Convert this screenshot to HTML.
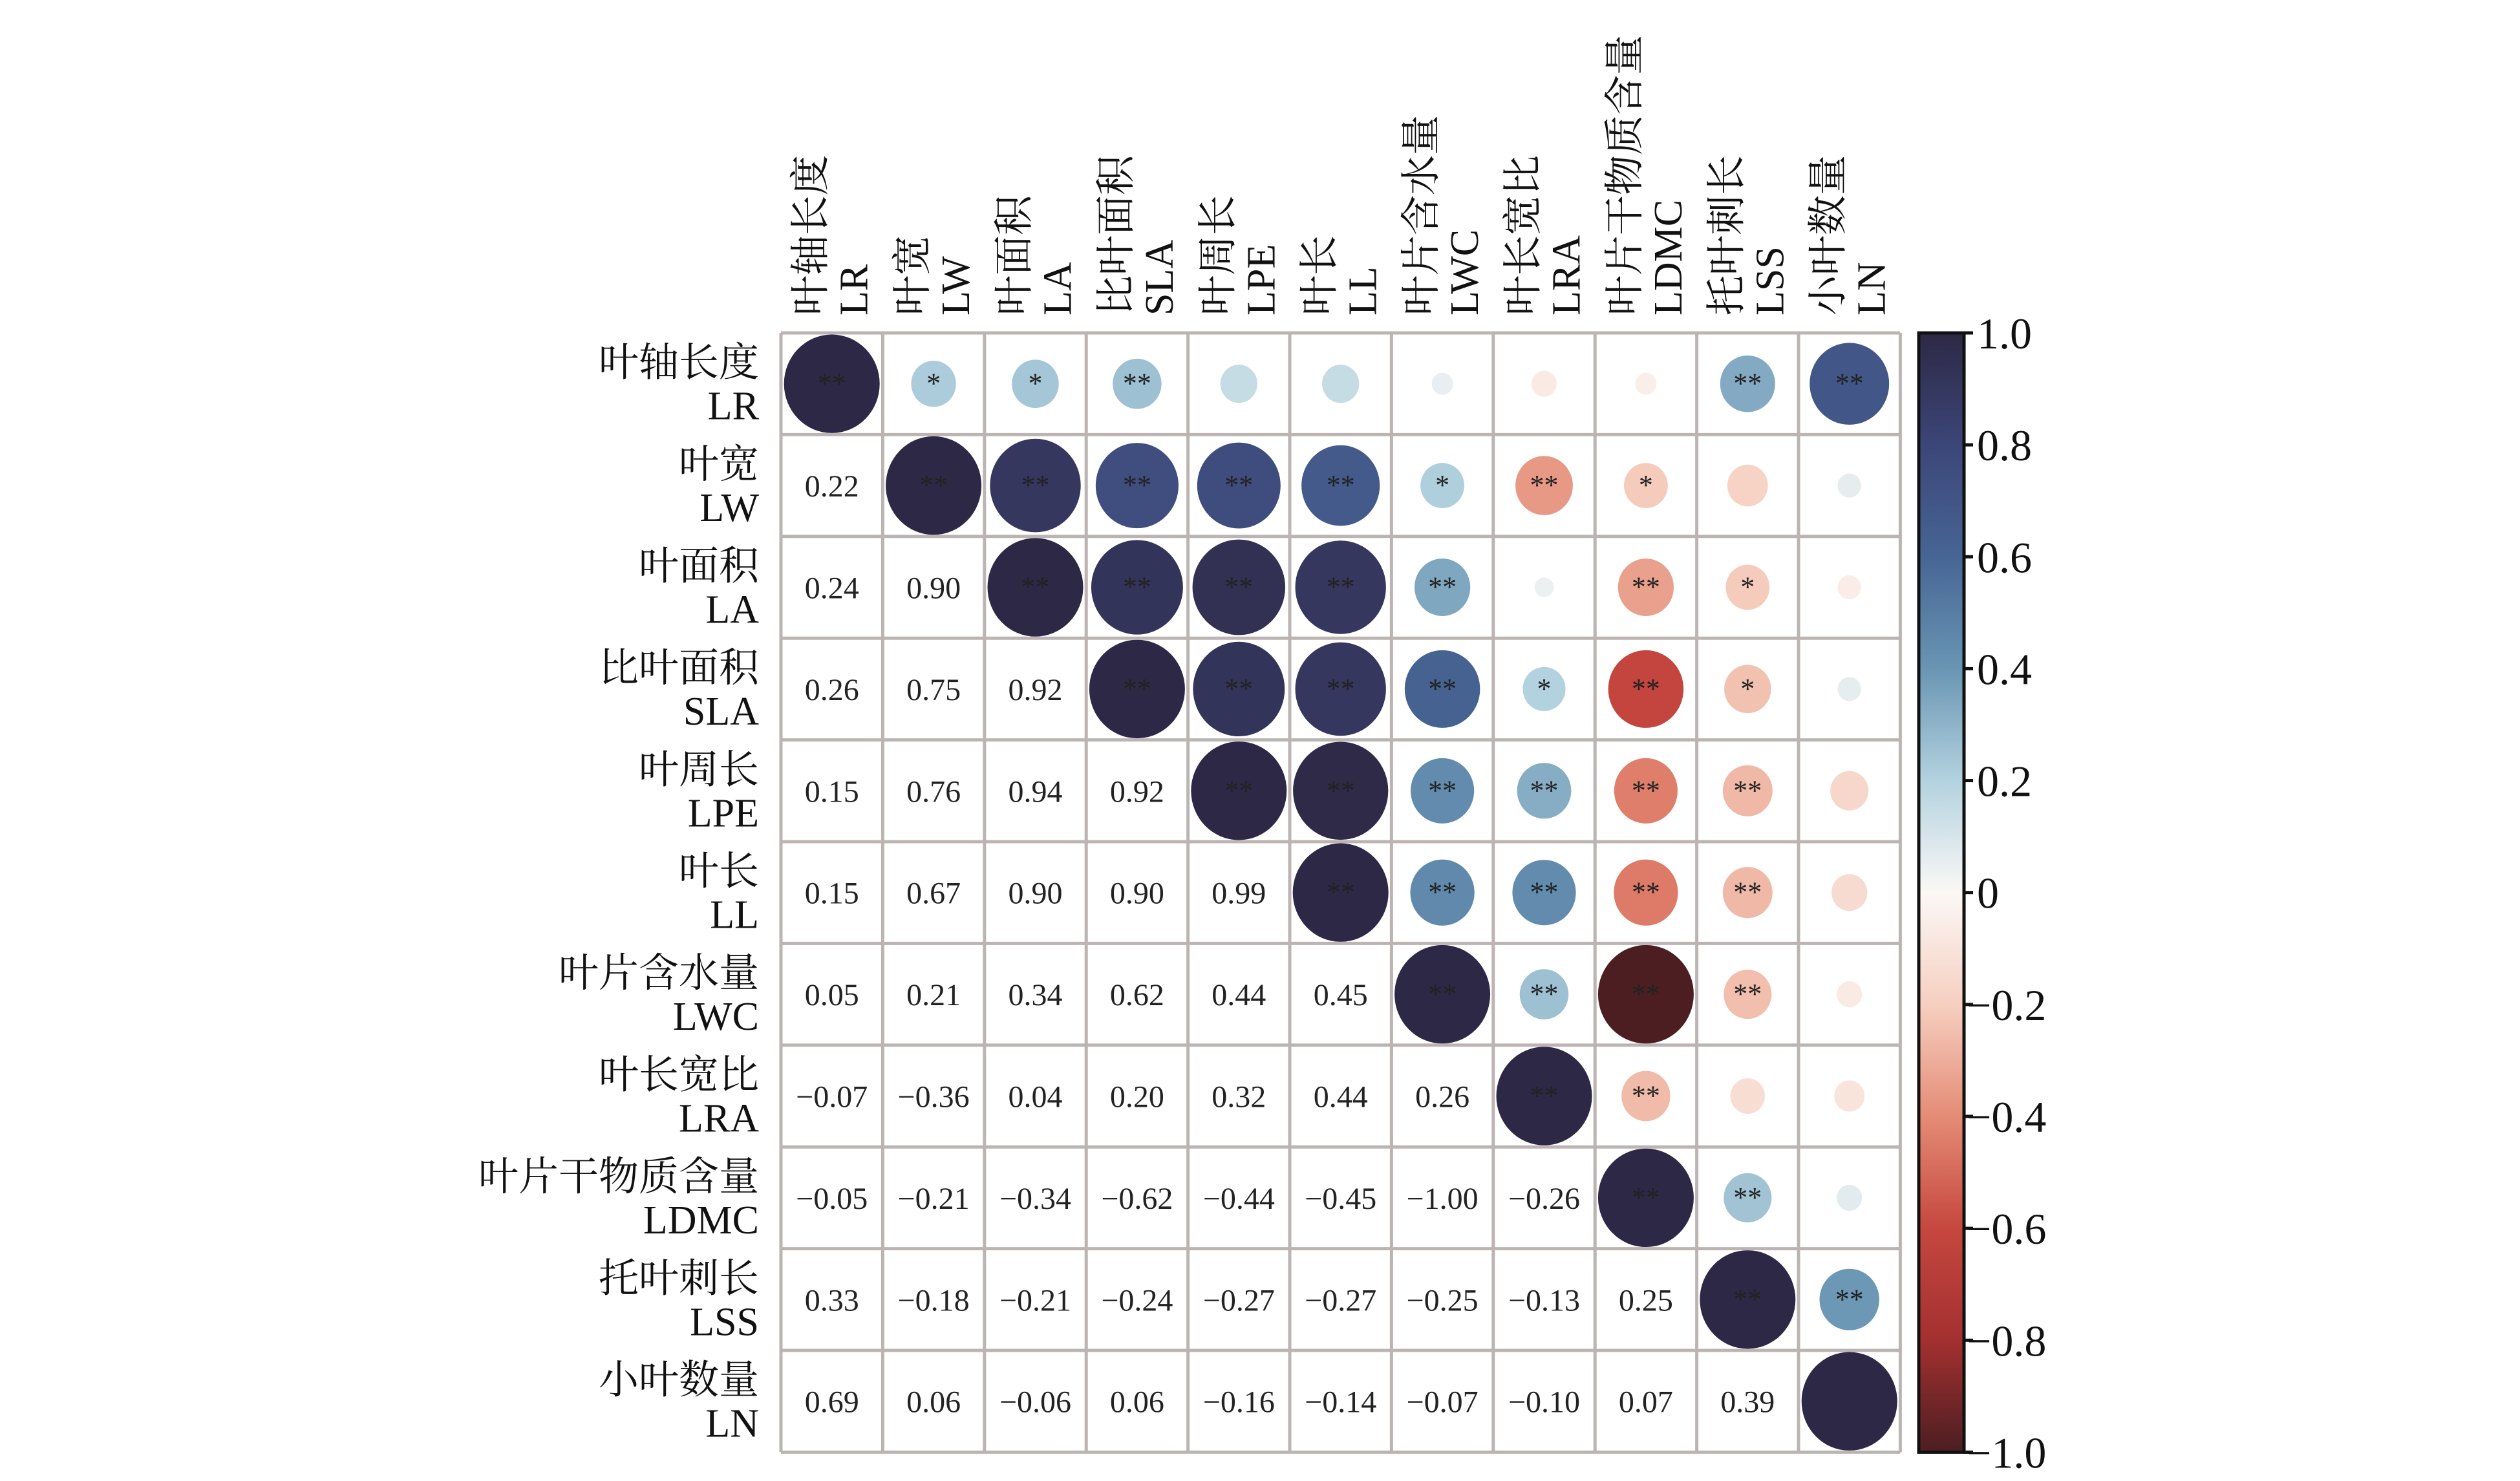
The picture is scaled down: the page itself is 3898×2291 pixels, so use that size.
<!DOCTYPE html>
<html><head><meta charset="utf-8"><style>
html,body{margin:0;padding:0;background:#fff;}
svg{display:block;}
</style></head><body>
<svg id="s" width="3898" height="2291" viewBox="0 0 3898 2291" xmlns="http://www.w3.org/2000/svg" font-family="'Liberation Serif','Noto Serif CJK SC',serif">
<defs>
<linearGradient id="cb" x1="0" y1="0" x2="0" y2="1">
<stop offset="0" stop-color="#2d2845"/>
<stop offset="0.1" stop-color="#3c4678"/>
<stop offset="0.2" stop-color="#466594"/>
<stop offset="0.3" stop-color="#6995b3"/>
<stop offset="0.4" stop-color="#b3d2df"/>
<stop offset="0.5" stop-color="#fbf8f6"/>
<stop offset="0.6" stop-color="#f6cfc0"/>
<stop offset="0.7" stop-color="#e48c76"/>
<stop offset="0.8" stop-color="#c6473f"/>
<stop offset="0.9" stop-color="#a33030"/>
<stop offset="1" stop-color="#4c1e22"/>
</linearGradient>
</defs>
<g id="g"></g>
</svg>
<script>
var zh=["叶轴长度","叶宽","叶面积","比叶面积","叶周长","叶长","叶片含水量","叶长宽比","叶片干物质含量","托叶刺长","小叶数量"];
var en=["LR","LW","LA","SLA","LPE","LL","LWC","LRA","LDMC","LSS","LN"];
var low=[[],
[0.22],
[0.24,0.90],
[0.26,0.75,0.92],
[0.15,0.76,0.94,0.92],
[0.15,0.67,0.90,0.90,0.99],
[0.05,0.21,0.34,0.62,0.44,0.45],
[-0.07,-0.36,0.04,0.20,0.32,0.44,0.26],
[-0.05,-0.21,-0.34,-0.62,-0.44,-0.45,-1.00,-0.26],
[0.33,-0.18,-0.21,-0.24,-0.27,-0.27,-0.25,-0.13,0.25],
[0.69,0.06,-0.06,0.06,-0.16,-0.14,-0.07,-0.10,0.07,0.39]];
var st=[
["**","*","*","**","","","","","","**","**"],
["","**","**","**","**","**","*","**","*","",""],
["","","**","**","**","**","**","","**","*",""],
["","","","**","**","**","**","*","**","*",""],
["","","","","**","**","**","**","**","**",""],
["","","","","","**","**","**","**","**",""],
["","","","","","","**","**","**","**",""],
["","","","","","","","**","**","",""],
["","","","","","","","","**","**",""],
["","","","","","","","","","**","**"],
["","","","","","","","","","",""]];
var stops=[[1,[45,40,69]],[0.8,[60,70,120]],[0.6,[70,101,148]],[0.4,[105,149,179]],[0.2,[179,210,223]],[0,[251,248,246]],[-0.2,[246,207,192]],[-0.4,[228,140,118]],[-0.6,[198,71,63]],[-0.8,[163,48,48]],[-1,[76,30,34]]];
function col(v){for(var i=0;i<stops.length-1;i++){var a=stops[i],b=stops[i+1];if(v<=a[0]&&v>=b[0]){var t=(a[0]-v)/(a[0]-b[0]);var c=a[1].map(function(x,k){return Math.round(x+(b[1][k]-x)*t)});return "rgb("+c.join(",")+")";}}return "#fff";}
var L=1208,T=515,C=157.4,h="";
function val(i,j){if(i==j)return 1;return i>j?low[i][j]:low[j][i];}
for(var i=0;i<11;i++){for(var j=0;j<11;j++){var cx=L+C*(j+0.5),cy=T+C*(i+0.5);
 if(j>=i){var v=val(i,j);var r=74*Math.sqrt(Math.abs(v));
  h+='<ellipse cx="'+cx+'" cy="'+cy+'" rx="'+r+'" ry="'+(r*1.03)+'" fill="'+col(v)+'"/>';
  if(st[i][j])h+='<text x="'+cx+'" y="'+(cy+14)+'" font-size="44" text-anchor="middle" fill="#222">'+st[i][j]+'</text>';
 } else {var v=low[i][j];var s=v.toFixed(2).replace("-","\u2212");
  h+='<text x="'+cx+'" y="'+(cy+17)+'" font-size="48" text-anchor="middle" fill="#222">'+s+'</text>';}
}}
for(var k=0;k<=11;k++){h+='<line x1="'+(L+C*k)+'" y1="'+T+'" x2="'+(L+C*k)+'" y2="'+(T+11*C)+'" stroke="#bcb4b2" stroke-width="5"/>';
 h+='<line x1="'+L+'" y1="'+(T+C*k)+'" x2="'+(L+11*C)+'" y2="'+(T+C*k)+'" stroke="#bcb4b2" stroke-width="5"/>';}
for(var i=0;i<11;i++){var cy=T+C*(i+0.5);
 h+='<text x="1174" y="'+(cy-12)+'" font-size="62" text-anchor="end" fill="#111">'+zh[i]+'</text>';
 h+='<text x="1174" y="'+(cy+55)+'" font-size="62" text-anchor="end" fill="#111">'+en[i]+'</text>';
 var cx=L+C*(i+0.5);
 h+='<text transform="translate('+(cx-12)+',488) rotate(-90)" font-size="62" fill="#111">'+zh[i]+'</text>';
 h+='<text transform="translate('+(cx+55)+',488) rotate(-90)" font-size="62" fill="#111">'+en[i]+'</text>';}
var cbT=T,cbH=11*C,X=2968;
h+='<rect x="'+X+'" y="'+cbT+'" width="70" height="'+cbH+'" fill="url(#cb)" stroke="#111" stroke-width="5"/>';
for(var k=0;k<=10;k++){var y=cbT+cbH/10*k;var v=(1-0.2*k);var s=(Math.abs(v)<1e-9)?"0":v.toFixed(1).replace("-","\u2212");
 h+='<line x1="'+(X+70)+'" y1="'+y+'" x2="'+(X+84)+'" y2="'+y+'" stroke="#111" stroke-width="5"/>';
 h+='<text x="'+(s.charAt(0)=="\u2212"?X+74:X+90)+'" y="'+(y+24)+'" font-size="68" fill="#111">'+s+'</text>';}
document.getElementById("g").innerHTML=h;
</script>
</body></html>
